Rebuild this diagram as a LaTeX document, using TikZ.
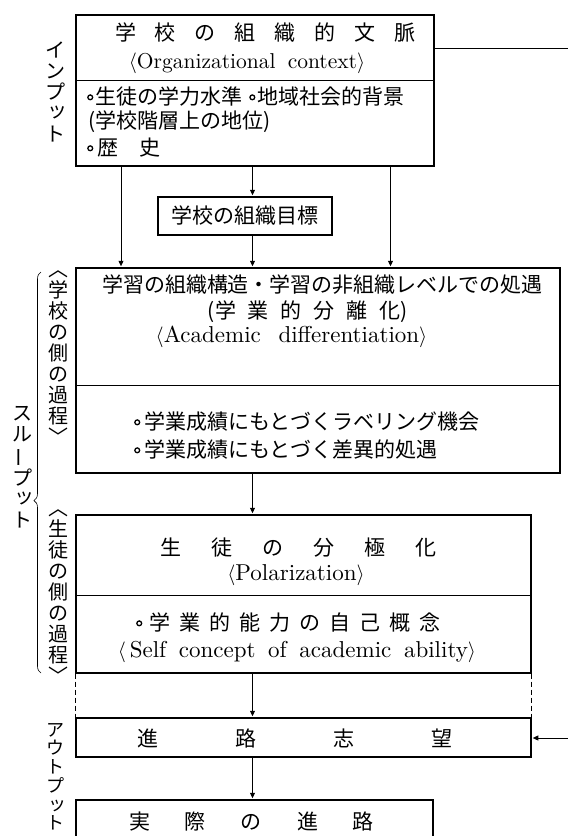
\documentclass[tikz,border=0pt]{standalone}
\usepackage{fontspec}
\usepackage{graphicx}
\usetikzlibrary{arrows.meta,decorations.pathreplacing}
\newfontfamily\jp{Noto Sans CJK JP}
\newfontfamily\lmr{lmroman10-regular.otf}
\newcommand\bul{\raisebox{4.6pt}{\tikz[x=1pt,y=1pt]\draw[line width=1.3pt] (0,0) circle (2.4pt);}}
\newcommand\vsm[1]{\raisebox{3pt}{\hspace*{4pt}#1}}
\newcommand\vsmb[1]{\hspace*{4pt}#1}
\newcommand\vln{\rotatebox[origin=c]{90}{ー}}
\newcommand\lang{{\fontsize{21}{25}\selectfont$\langle$}}
\newcommand\rang{{\fontsize{21}{25}\selectfont$\rangle$}}
\begin{document}
\begin{tikzpicture}[x=1pt,y=-1pt,
  box/.style={draw, line width=1.1pt, inner sep=0pt},
  jt/.style={font=\jp\fontsize{21}{25}\selectfont, inner sep=0pt},
  et/.style={font=\lmr\fontsize{#1}{25}\selectfont, inner sep=0pt},
  et/.default=21.5,
  vt/.style={font=\jp\fontsize{20}{21}\selectfont, align=center, inner sep=0pt},
  arr/.style={line width=0.6pt, -{Triangle[width=5pt,length=5.5pt]}, shorten >=1.2pt},
  thinl/.style={line width=0.6pt},
  divl/.style={line width=0.8pt},
  dashl/.style={line width=0.9pt, dash pattern=on 5pt off 3pt}]
\useasboundingbox (0,0) rectangle (568,836);
\clip (0,0) rectangle (568,836);
\fill[white] (0,0) rectangle (568,836);

% boxes
\node[box, minimum width=358pt, minimum height=151pt] (ctx) at (255,90.5) {};
\node[box, minimum width=174pt, minimum height=38pt] (goal) at (245,216) {};
\node[box, minimum width=484pt, minimum height=205pt] (acad) at (318,370.5) {};
\node[box, minimum width=455pt, minimum height=158pt] (pol) at (303.5,594) {};
\node[box, minimum width=455pt, minimum height=39pt] (asp) at (303.5,737.5) {};
\node[box, minimum width=357pt, minimum height=60pt] (real) at (254.5,830) {};

% dividers
\draw[divl] (76,80) -- (434,80);
\draw[divl] (76,385) -- (560,385);
\draw[divl] (76,595) -- (531,595);

% texts in ctx
\node[jt] (t1) at (265.5,33) {学\hspace{19pt}校\hspace{19pt}の\hspace{19pt}組\hspace{19pt}織\hspace{19pt}的\hspace{19pt}文\hspace{19pt}脈};
\node[et] (t2) at (247,63) {\lang Organizational\hspace{5pt} context\rang};
\node[jt, anchor=west] (t3) at (87,97) {\bul\hspace{2pt}生徒の学力水準\hspace{7pt}\bul\hspace{2pt}地域社会的背景};
\node[jt, anchor=west] (t4) at (88,122) {(学校階層上の地位)};
\node[jt, anchor=west] (t5) at (87,148) {\bul\hspace{4pt}歴\hspace{21pt}史};

\node[jt] (g1) at (goal) {学校の組織目標};

% texts in acad
\node[jt] (a1) at (322.5,285) {学習の組織構造・学習の非組織レベルでの処遇};
\node[jt] (a2) at (308,312) {(学\hspace{12pt}業\hspace{12pt}的\hspace{12pt}分\hspace{12pt}離\hspace{12pt}化)};
\node[et=23] (a3) at (291.5,337) {\lang Academic\hspace{10pt} differentiation\rang};
\node[jt, anchor=west] (a4) at (134,422) {\bul\hspace{4pt}学業成績にもとづくラベリング機会};
\node[jt, anchor=west] (a5) at (134,450) {\bul\hspace{4pt}学業成績にもとづく差異的処遇};

% texts in pol
\node[jt] (p1) at (298.5,548) {生\hspace{30pt}徒\hspace{30pt}の\hspace{30pt}分\hspace{30pt}極\hspace{30pt}化};
\node[et=23] (p2) at (296,575) {\lang Polarization\rang};
\node[jt, anchor=west] (p3) at (136,623) {\bul\hspace{7pt}学\hspace{9pt}業\hspace{9pt}的\hspace{9pt}能\hspace{9pt}力\hspace{9pt}の\hspace{9pt}自\hspace{9pt}己\hspace{9pt}概\hspace{9pt}念};
\node[et=23] (p4) at (297,652) {\lang\,Self\hspace{5pt} concept\hspace{5pt} of\hspace{5pt} academic\hspace{5pt} ability\rang};

\node[jt] (s1) at (295,738) {進\hspace{77pt}路\hspace{77pt}志\hspace{77pt}望};
\node[jt] (r1) at (251.5,822) {実\hspace{35pt}際\hspace{35pt}の\hspace{35pt}進\hspace{35pt}路};

% left labels
\node[vt] (linp) at (55,91.5) {イ\\ン\\プ\\\vsm{ッ}\\ト};
\node[vt] (ltp) at (22,467) {ス\\ル\\\vln\\プ\\\vsm{ッ}\\ト};
\node[vt] (lsch) at (58,358) {︿\\学\\校\\の\\側\\の\\過\\程\\﹀};
\node[vt] (lstu) at (58,597) {︿\\生\\徒\\の\\側\\の\\過\\程\\﹀};
\node[vt, font=\jp\fontsize{18}{18.7}\selectfont] (lout) at (55,776.5) {ア\\ウ\\ト\\プ\\\vsmb{ッ}\\ト};
\draw[thinl, decorate, decoration={brace, amplitude=7pt, aspect=0.43}] (41,673) -- (41,272);

% connectors
\coordinate (cl) at (121,0);
\coordinate (cm) at (252.5,0);
\coordinate (cr) at (390.5,0);
\coordinate (rt) at (568,48);
\coordinate (rb) at (568,738);
\draw[arr] (ctx.south -| cl) -- (acad.north -| cl);
\draw[arr] (ctx.south -| cr) -- (acad.north -| cr);
\draw[arr] (ctx.south -| cm) -- (goal.north -| cm);
\draw[arr] (goal.south -| cm) -- (acad.north -| cm);
\draw[arr] (acad.south -| cm) -- (pol.north -| cm);
\draw[arr] (pol.south -| cm) -- (asp.north -| cm);
\draw[arr] (asp.south -| cm) -- (real.north -| cm);
\draw[thinl] (ctx.east |- rt) -- (rt);
\draw[arr] (rb) -- (asp.east |- rb);
\draw[dashl] (pol.south west) -- (asp.north west);
\draw[dashl] (pol.south east) -- (asp.north east);
\end{tikzpicture}
\end{document}
